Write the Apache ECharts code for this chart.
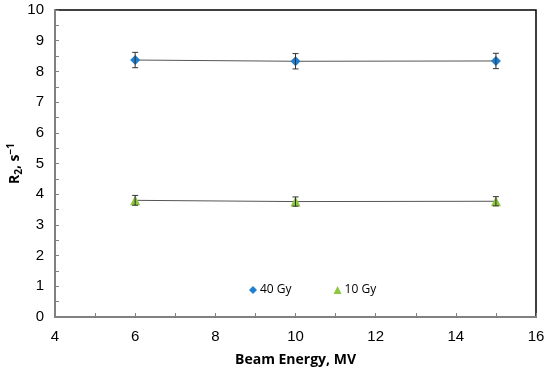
<!DOCTYPE html>
<html><head><meta charset="utf-8">
<script src="https://cdn.jsdelivr.net/npm/echarts@6/dist/echarts.min.js"></script>
<style>html,body{margin:0;padding:0;background:#fff}#c{width:550px;height:375px}</style>
</head><body><div id="c"></div>
<script>
const energies = [6, 10, 15];
const r2_40Gy = [8.37, 8.33, 8.34];
const err_40Gy = [0.25, 0.25, 0.25];
const r2_10Gy = [3.80, 3.76, 3.77];
const err_10Gy = [0.16, 0.15, 0.15];
const xTicks = [4, 6, 8, 10, 12, 14, 16];
const yTicks = [0, 1, 2, 3, 4, 5, 6, 7, 8, 9, 10];

const blue = '#1F7FD0', green = '#8DC63F';
const pts = (ys) => energies.map((x, i) => [x, ys[i]]);
const errData = (ys, es) => energies.map((x, i) => [x, ys[i] - es[i], ys[i] + es[i]]);

function errRender(params, api) {
  const x = api.value(0), lo = api.value(1), hi = api.value(2);
  const a = api.coord([x, lo]), b = api.coord([x, hi]);
  const st = { stroke: '#333', lineWidth: 1 };
  return { type: 'group', children: [
    { type: 'line', shape: { x1: a[0], y1: a[1], x2: b[0], y2: b[1] }, style: st },
    { type: 'line', shape: { x1: a[0] - 3, y1: a[1], x2: a[0] + 3, y2: a[1] }, style: st },
    { type: 'line', shape: { x1: b[0] - 3, y1: b[1], x2: b[0] + 3, y2: b[1] }, style: st }
  ]};
}

const chart = echarts.init(document.getElementById('c'), null, { renderer: 'canvas' });
const font = 'Liberation Sans, Arial, sans-serif';
const titleFont = 'Open Sans, Lato, sans-serif';
chart.setOption({
  animation: false,
  grid: { left: 55, right: 14, top: 10, bottom: 58, containLabel: false, outerBoundsMode: 'none',
    show: true, borderColor: '#000', borderWidth: 1.5, backgroundColor: 'transparent' },
  xAxis: {
    type: 'value', min: xTicks[0], max: xTicks[xTicks.length - 1], interval: 2,
    name: 'Beam Energy, MV', nameLocation: 'middle', nameGap: 36, nameMoveOverlap: false,
    nameTextStyle: { fontFamily: titleFont, fontWeight: 'bold', fontSize: 14, color: '#000' },
    axisLine: { lineStyle: { color: '#808080', width: 2 } },
    axisTick: { inside: true, length: 4, lineStyle: { color: '#808080' } },
    minorTick: { show: true, splitNumber: 2, length: 4, lineStyle: { color: '#808080' } },
    axisLabel: { fontFamily: font, fontSize: 15, color: '#000', margin: 12 },
    splitLine: { show: false }
  },
  yAxis: {
    type: 'value', min: yTicks[0], max: yTicks[yTicks.length - 1], interval: 1,
    name: '{a|R}{s|2}{a|, s}{p|−1}', nameLocation: 'middle', nameGap: 30, nameRotate: 90, nameMoveOverlap: false,
    nameTextStyle: { rich: {
      a: { fontFamily: titleFont, fontWeight: 'bold', fontSize: 14, color: '#000', lineHeight: 20 },
      s: { fontFamily: titleFont, fontWeight: 'bold', fontSize: 10, color: '#000', lineHeight: 20, padding: [8, 0, 0, 0] },
      p: { fontFamily: titleFont, fontWeight: 'bold', fontSize: 10, color: '#000', lineHeight: 20, padding: [0, 0, 8, 0] }
    } },
    axisLine: { show: true, lineStyle: { color: '#808080', width: 2 } },
    axisTick: { show: true, inside: true, length: 4, lineStyle: { color: '#808080' } },
    minorTick: { show: true, splitNumber: 2, length: 4, lineStyle: { color: '#808080' } },
    axisLabel: { fontFamily: font, fontSize: 15, color: '#000', margin: 11 },
    splitLine: { show: false }
  },
  legend: {
    left: 244, top: 279, itemGap: 42, itemWidth: 8, itemHeight: 8,
    textStyle: { fontFamily: titleFont, fontSize: 12, color: '#000', padding: [0, 0, 0, -2] },
    data: [{ name: '40 Gy', icon: 'diamond' }, { name: '10 Gy', icon: 'triangle' }]
  },
  series: [
    { name: '40 Gy', type: 'line', data: pts(r2_40Gy), symbol: 'diamond', symbolSize: 10,
      itemStyle: { color: blue }, lineStyle: { color: '#555', width: 1 }, z: 3 },
    { name: '10 Gy', type: 'line', data: pts(r2_10Gy), symbol: 'triangle', symbolSize: 10,
      itemStyle: { color: green }, lineStyle: { color: '#555', width: 1 }, z: 3 },
    { type: 'custom', data: errData(r2_40Gy, err_40Gy), renderItem: errRender, z: 4, silent: true },
    { type: 'custom', data: errData(r2_10Gy, err_10Gy), renderItem: errRender, z: 4, silent: true }
  ]
});
</script></body></html>
